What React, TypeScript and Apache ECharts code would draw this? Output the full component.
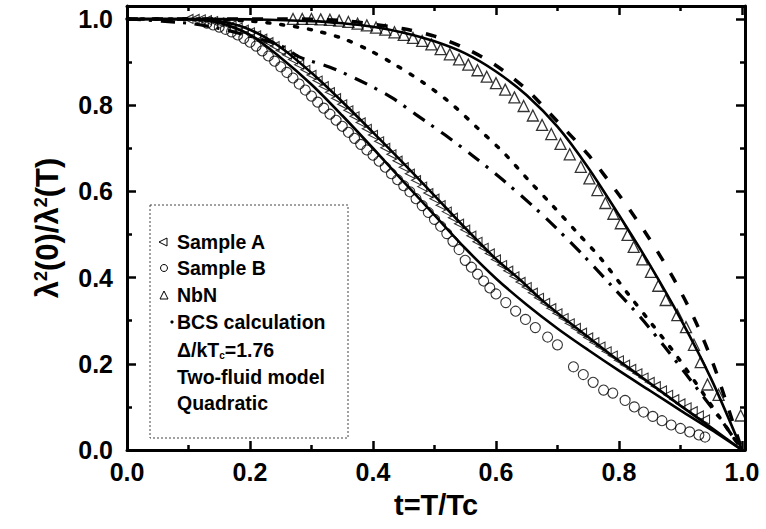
import React, { useEffect, useRef } from "react";
import * as echarts from "echarts";

// ---- axis ticks ----
const xMajor = [0, 0.2, 0.4, 0.6, 0.8, 1.0];
const xMinor = [0.1, 0.3, 0.5, 0.7, 0.9];
const yMajor = [0, 0.2, 0.4, 0.6, 0.8, 1.0];
const yMinor = [0.1, 0.3, 0.5, 0.7, 0.9];

// ---- measured data (t, lambda^2(0)/lambda^2(T)) ----
const sampleA: [number, number][] = [
  [0.10, 1.000], [0.11, 1.000], [0.12, 0.999], [0.13, 0.997], [0.14, 0.995], [0.15, 0.992],
  [0.16, 0.989], [0.17, 0.985], [0.18, 0.980], [0.19, 0.975], [0.20, 0.969], [0.21, 0.962],
  [0.22, 0.954], [0.23, 0.946], [0.24, 0.937], [0.25, 0.927], [0.26, 0.917], [0.27, 0.906],
  [0.28, 0.894], [0.29, 0.882], [0.30, 0.870], [0.31, 0.857], [0.32, 0.844], [0.33, 0.830],
  [0.34, 0.816], [0.35, 0.802], [0.36, 0.788], [0.37, 0.774], [0.38, 0.760], [0.39, 0.745],
  [0.40, 0.731], [0.41, 0.716], [0.42, 0.701], [0.43, 0.686], [0.44, 0.671], [0.45, 0.656],
  [0.46, 0.641], [0.47, 0.626], [0.48, 0.611], [0.49, 0.596], [0.50, 0.583], [0.51, 0.568],
  [0.52, 0.553], [0.53, 0.539], [0.54, 0.525], [0.55, 0.511], [0.56, 0.497], [0.57, 0.483],
  [0.58, 0.469], [0.59, 0.456], [0.60, 0.442], [0.61, 0.429], [0.62, 0.416], [0.63, 0.403],
  [0.64, 0.390], [0.65, 0.378], [0.66, 0.365], [0.67, 0.353], [0.68, 0.341], [0.69, 0.329],
  [0.70, 0.317], [0.71, 0.306], [0.72, 0.294], [0.73, 0.283], [0.74, 0.272], [0.75, 0.261],
  [0.76, 0.250], [0.77, 0.240], [0.78, 0.229], [0.79, 0.219], [0.80, 0.208], [0.81, 0.198],
  [0.82, 0.188], [0.83, 0.178], [0.84, 0.168], [0.85, 0.158], [0.86, 0.148], [0.87, 0.138],
  [0.88, 0.128], [0.89, 0.118], [0.90, 0.108], [0.91, 0.099], [0.92, 0.090], [0.93, 0.080],
  [0.94, 0.071],
];

const sampleB: [number, number][] = [
  [0.13, 0.990], [0.14, 0.986], [0.15, 0.981], [0.16, 0.976], [0.17, 0.970], [0.18, 0.963],
  [0.19, 0.955], [0.20, 0.946], [0.21, 0.937], [0.22, 0.926], [0.23, 0.914], [0.24, 0.902],
  [0.25, 0.889], [0.26, 0.876], [0.27, 0.863], [0.28, 0.849], [0.29, 0.835], [0.30, 0.821],
  [0.31, 0.807], [0.32, 0.793], [0.33, 0.779], [0.34, 0.765], [0.35, 0.751], [0.36, 0.737],
  [0.37, 0.723], [0.38, 0.709], [0.39, 0.696], [0.40, 0.684], [0.41, 0.670], [0.42, 0.656],
  [0.43, 0.641], [0.44, 0.627], [0.45, 0.613], [0.46, 0.599], [0.47, 0.583], [0.48, 0.567],
  [0.49, 0.551], [0.50, 0.535], [0.51, 0.519], [0.52, 0.502], [0.53, 0.484], [0.54, 0.465],
  [0.55, 0.440], [0.56, 0.424], [0.57, 0.408], [0.58, 0.392], [0.59, 0.376], [0.60, 0.362],
  [0.616, 0.342], [0.632, 0.322], [0.648, 0.303], [0.664, 0.284], [0.684, 0.262], [0.700, 0.244],
  [0.726, 0.193], [0.742, 0.175], [0.758, 0.157], [0.775, 0.139], [0.790, 0.132], [0.810, 0.115],
  [0.825, 0.100], [0.840, 0.088], [0.855, 0.078], [0.870, 0.068], [0.885, 0.058], [0.900, 0.050],
  [0.915, 0.042], [0.930, 0.035], [0.940, 0.030],
];

const nbn: [number, number][] = [
  [0.27, 1.000], [0.285, 1.000], [0.30, 1.000], [0.315, 0.999], [0.33, 0.998], [0.345, 0.996],
  [0.36, 0.993], [0.375, 0.989], [0.39, 0.985], [0.405, 0.980], [0.42, 0.975], [0.435, 0.969],
  [0.45, 0.963], [0.465, 0.956], [0.48, 0.949], [0.495, 0.941], [0.51, 0.930], [0.525, 0.918],
  [0.54, 0.906], [0.555, 0.894], [0.57, 0.881], [0.585, 0.866], [0.60, 0.851], [0.615, 0.836],
  [0.63, 0.818], [0.645, 0.798], [0.66, 0.776], [0.675, 0.754], [0.69, 0.733], [0.705, 0.710],
  [0.72, 0.686], [0.738, 0.657], [0.752, 0.630], [0.765, 0.603], [0.778, 0.573], [0.791, 0.548],
  [0.803, 0.526], [0.814, 0.499], [0.824, 0.471], [0.838, 0.442], [0.852, 0.413], [0.864, 0.381],
  [0.876, 0.348], [0.895, 0.313], [0.909, 0.285], [0.922, 0.244], [0.933, 0.204], [0.944, 0.152],
  [0.962, 0.128], [0.998, 0.080],
];

// ---- model curves ----
const twoFluid: [number, number][] = [
  [0.0, 1.0], [0.1, 1.0], [0.2, 0.999], [0.3, 0.995], [0.35, 0.990], [0.4, 0.982], [0.45, 0.968],
  [0.5, 0.948], [0.55, 0.920], [0.6, 0.878], [0.65, 0.823], [0.7, 0.750], [0.75, 0.655],
  [0.8, 0.545], [0.85, 0.430], [0.9, 0.305], [0.95, 0.165], [1.0, 0.0],
];

const gapRatio: [number, number][] = [
  [0.0, 1.0], [0.25, 1.0], [0.35, 0.996], [0.45, 0.977], [0.5, 0.960], [0.55, 0.932],
  [0.6, 0.892], [0.65, 0.836], [0.7, 0.762], [0.75, 0.685], [0.8, 0.592], [0.845, 0.500],
  [0.888, 0.400], [0.925, 0.297], [0.954, 0.197], [0.975, 0.109], [1.0, 0.0],
];

const bcsCalc: [number, number][] = [
  [0.0, 1.0], [0.1, 1.0], [0.2, 0.995], [0.25, 0.987], [0.303, 0.974], [0.35, 0.955],
  [0.393, 0.928], [0.437, 0.893], [0.48, 0.854], [0.526, 0.805], [0.57, 0.747], [0.613, 0.689],
  [0.653, 0.626], [0.694, 0.564], [0.733, 0.503], [0.77, 0.445], [0.816, 0.360], [0.852, 0.295],
  [0.892, 0.222], [0.94, 0.125], [1.0, 0.0],
];

const quadratic: [number, number][] = [
  [0.0, 1.0], [0.1, 0.990], [0.15, 0.978], [0.2, 0.960], [0.25, 0.938], [0.28, 0.912],
  [0.33, 0.888], [0.38, 0.856], [0.43, 0.818], [0.47, 0.778], [0.518, 0.730], [0.56, 0.685],
  [0.61, 0.628], [0.66, 0.566], [0.70, 0.512], [0.745, 0.447], [0.79, 0.378], [0.835, 0.308],
  [0.874, 0.240], [0.908, 0.178], [0.97, 0.062], [1.0, 0.0],
];

const fitA: [number, number][] = [
  [0.0, 1.0], [0.1, 1.0], [0.15, 0.995], [0.2, 0.975], [0.249, 0.935], [0.3, 0.875],
  [0.35, 0.808], [0.4, 0.737], [0.445, 0.672], [0.5, 0.590], [0.55, 0.515], [0.6, 0.443],
  [0.64, 0.394], [0.673, 0.350], [0.7, 0.318], [0.75, 0.262], [0.8, 0.207], [0.836, 0.170],
  [0.9, 0.103], [0.95, 0.052], [1.0, 0.0],
];

const fitB: [number, number][] = [
  [0.0, 1.0], [0.1, 0.999], [0.15, 0.991], [0.2, 0.963], [0.25, 0.910], [0.3, 0.848],
  [0.35, 0.776], [0.4, 0.700], [0.45, 0.622], [0.5, 0.545], [0.55, 0.468], [0.6, 0.398],
  [0.65, 0.337], [0.7, 0.282], [0.75, 0.232], [0.8, 0.184], [0.85, 0.138], [0.9, 0.092],
  [0.95, 0.047], [1.0, 0.0],
];

const legendLabels = [
  "Sample A",
  "Sample B",
  "NbN",
  "BCS calculation",
  "Δ/kT{sub|c}=1.76",
  "Two-fluid model",
  "Quadratic",
];

const FONT = '"Liberation Sans", Arial, Helvetica, sans-serif';

export default function App() {
  const ref = useRef<HTMLDivElement>(null);

  useEffect(() => {
    if (!ref.current) return;
    const chart = echarts.init(ref.current, undefined, { renderer: "svg" });

    const X_MIN = 0, X_MAX = 1.005, Y_MIN = 0, Y_MAX = 1.03;
    const tickStyle = { color: "#000", width: 2.5 };
    const lineStyleAxis = { color: "#000", width: 3 };

    const labelStyle = {
      color: "#000",
      fontSize: 25,
      fontWeight: "bold" as const,
      fontFamily: FONT,
    };

    const xAxes = [
      {
        type: "value", position: "bottom", min: X_MIN, max: X_MAX,
        axisLine: { show: true, onZero: false, lineStyle: lineStyleAxis },
        axisTick: { show: true, inside: true, length: 9, lineStyle: tickStyle, customValues: xMajor },
        axisLabel: { show: true, customValues: xMajor, margin: 9, formatter: (v: number) => v.toFixed(1), ...labelStyle },
        splitLine: { show: false },
        name: "t=T/Tc", nameLocation: "middle", nameGap: 40,
        nameTextStyle: { color: "#000", fontSize: 29, fontWeight: "bold", fontFamily: FONT },
      },
      {
        type: "value", position: "bottom", min: X_MIN, max: X_MAX,
        axisLine: { show: false, onZero: false },
        axisTick: { show: true, inside: true, length: 5, lineStyle: tickStyle, customValues: xMinor },
        axisLabel: { show: false }, splitLine: { show: false },
      },
      {
        type: "value", position: "top", min: X_MIN, max: X_MAX,
        axisLine: { show: true, onZero: false, lineStyle: lineStyleAxis },
        axisTick: { show: true, inside: true, length: 9, lineStyle: tickStyle, customValues: xMajor },
        axisLabel: { show: false }, splitLine: { show: false },
      },
      {
        type: "value", position: "top", min: X_MIN, max: X_MAX,
        axisLine: { show: false, onZero: false },
        axisTick: { show: true, inside: true, length: 5, lineStyle: tickStyle, customValues: xMinor },
        axisLabel: { show: false }, splitLine: { show: false },
      },
    ];

    const yAxes = [
      {
        type: "value", position: "left", min: Y_MIN, max: Y_MAX,
        axisLine: { show: true, onZero: false, lineStyle: lineStyleAxis },
        axisTick: { show: true, inside: true, length: 9, lineStyle: tickStyle, customValues: yMajor },
        axisLabel: { show: true, customValues: yMajor, margin: 14, formatter: (v: number) => v.toFixed(1), ...labelStyle },
        splitLine: { show: false },
        name: "λ{sup|2}(0)/λ{sup|2}(T)", nameLocation: "middle", nameGap: 64, nameRotate: 90,
        nameTextStyle: {
          color: "#000", fontSize: 31, fontWeight: "bold", fontFamily: FONT,
          rich: { sup: { fontSize: 18, fontWeight: "bold", fontFamily: FONT, color: "#000", verticalAlign: "top", padding: [0, 0, 12, 0] } },
        },
      },
      {
        type: "value", position: "left", min: Y_MIN, max: Y_MAX,
        axisLine: { show: false, onZero: false },
        axisTick: { show: true, inside: true, length: 5, lineStyle: tickStyle, customValues: yMinor },
        axisLabel: { show: false }, splitLine: { show: false },
      },
      {
        type: "value", position: "right", min: Y_MIN, max: Y_MAX,
        axisLine: { show: true, onZero: false, lineStyle: lineStyleAxis },
        axisTick: { show: true, inside: true, length: 9, lineStyle: tickStyle, customValues: yMajor },
        axisLabel: { show: false }, splitLine: { show: false },
      },
      {
        type: "value", position: "right", min: Y_MIN, max: Y_MAX,
        axisLine: { show: false, onZero: false },
        axisTick: { show: true, inside: true, length: 5, lineStyle: tickStyle, customValues: yMinor },
        axisLabel: { show: false }, splitLine: { show: false },
      },
    ];

    const curve = (name: string, data: [number, number][], type: any, width: number, extra: any = {}) => ({
      name, type: "line", data, showSymbol: false, symbol: "none", smooth: 0.3,
      lineStyle: { color: "#000", width, type, ...extra },
      z: 2, silent: true,
    });

    const hollow = { color: "rgba(255,255,255,0)", borderColor: "#000", borderWidth: 1.1 };

    const legendX = 177;
    const legendY = [242, 268, 295, 322, 350, 377, 403];
    const legendTexts = legendLabels.map((t, i) => ({
      type: "text",
      x: legendX,
      y: legendY[i],
      z: 100,
      style: {
        text: t,
        fill: "#000",
        fontSize: 19.5,
        fontWeight: "bold",
        fontFamily: FONT,
        verticalAlign: "middle",
        align: "left",
        rich: {
          sub: { fontSize: 10, fontWeight: "bold", fontFamily: FONT, fill: "#000", verticalAlign: "bottom", padding: [10, 0, 0, 0] },
        },
      },
    }));

    chart.setOption({
      animation: false,
      backgroundColor: "#fff",
      grid: { left: 127, right: 21, top: 6, bottom: 79, containLabel: false, outerBoundsMode: "none" },
      xAxis: xAxes,
      yAxis: yAxes,
      series: [
        curve("Two-fluid model", twoFluid, "solid", 2.6),
        curve("Δ/kTc=1.76", gapRatio, [11, 14], 3.5),
        curve("BCS calculation", bcsCalc, [3, 11], 3.5, { cap: "round" }),
        curve("Quadratic", quadratic, [14, 8, 3, 9], 3.2),
        curve("Fit A", fitA, "solid", 2.6),
        curve("Fit B", fitB, "solid", 2.6),
        {
          name: "Sample A", type: "scatter", data: sampleA, symbol: "triangle", symbolRotate: 90,
          symbolSize: 9, itemStyle: hollow, z: 3, silent: true,
        },
        {
          name: "Sample B", type: "scatter", data: sampleB, symbol: "circle",
          symbolSize: 10, itemStyle: hollow, z: 3, silent: true,
        },
        {
          name: "NbN", type: "scatter", data: nbn, symbol: "triangle",
          symbolSize: 11, itemStyle: { ...hollow, borderWidth: 1.3 }, z: 3, silent: true,
        },
      ],
      graphic: [
        {
          type: "rect", z: 99,
          shape: { x: 150, y: 205, width: 198, height: 233 },
          style: { fill: "#fff", stroke: "#444", lineWidth: 1, lineDash: [2, 2] },
        },
        {
          type: "polygon", z: 100,
          shape: { points: [[167, 238], [167, 246], [159, 242]] },
          style: { fill: "none", stroke: "#000", lineWidth: 1 },
        },
        {
          type: "circle", z: 100,
          shape: { cx: 164, cy: 268, r: 3.5 },
          style: { fill: "none", stroke: "#000", lineWidth: 1 },
        },
        {
          type: "polygon", z: 100,
          shape: { points: [[160, 299], [168, 299], [164, 291]] },
          style: { fill: "none", stroke: "#000", lineWidth: 1 },
        },
        {
          type: "circle", z: 100,
          shape: { cx: 172, cy: 322, r: 1.6 },
          style: { fill: "#000" },
        },
        ...legendTexts,
      ],
    });

    return () => chart.dispose();
  }, []);

  return (
    <div
      ref={ref}
      style={{ position: "absolute", left: 0, top: 0, width: 766, height: 529, background: "#fff" }}
    />
  );
}
